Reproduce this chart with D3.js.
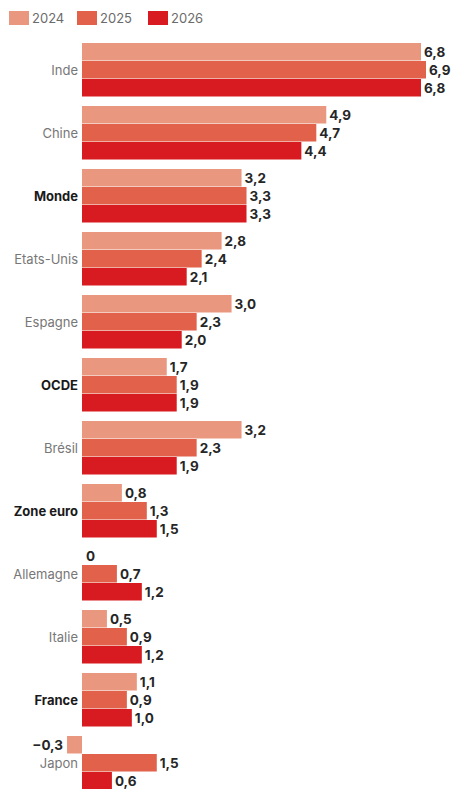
<!DOCTYPE html>
<html>
<head>
<meta charset="utf-8">
<script src="https://cdn.jsdelivr.net/npm/d3@7"></script>
<style>
  body { margin: 0; background: #fff; }
  svg { display: block; font-family: Inter, "Open Sans", sans-serif; }
</style>
</head>
<body>
<div id="chart-area"></div>
<script>
// Data
const countries = ['Inde', 'Chine', 'Monde', 'Etats-Unis', 'Espagne', 'OCDE', 'Brésil',
  'Zone euro', 'Allemagne', 'Italie', 'France', 'Japon'];
const boldCountries = ['Monde', 'OCDE', 'Zone euro', 'France'];
const years = ['2024', '2025', '2026'];
const values2024 = [6.8, 4.9, 3.2, 2.8, 3.0, 1.7, 3.2, 0.8, 0, 0.5, 1.1, -0.3];
const values2025 = [6.9, 4.7, 3.3, 2.4, 2.3, 1.9, 2.3, 1.3, 0.7, 0.9, 0.9, 1.5];
const values2026 = [6.8, 4.4, 3.3, 2.1, 2.0, 1.9, 1.9, 1.5, 1.2, 1.2, 1.0, 0.6];
const colors = ['#e9987f', '#e1614a', '#d81b20'];

const series = [values2024, values2025, values2026];

const width = 451;
const height = 789;

const svg = d3.select('#chart-area')
  .append('svg')
    .attr('width', width)
    .attr('height', height);

// Scales
const x = d3.scaleLinear()
  .domain([0, 6.8])
  .range([82, 421]);

const y = d3.scaleBand()
  .domain(countries)
  .range([43, 790])
  .paddingInner(9 / 63)
  .paddingOuter(0);

const ySub = d3.scaleBand()
  .domain(years)
  .range([0, y.bandwidth()]);

// "0" stays plain, others use a comma decimal
const fmt = v => v === 0 ? '0'
  : (v < 0 ? '\u2212' : '') + d3.format('.1f')(Math.abs(v)).replace('.', ',');

// Legend
const legend = svg.append('g');
const legendX = [9, 77, 148];
years.forEach((yr, i) => {
  legend.append('rect')
    .attr('x', legendX[i])
    .attr('y', 11)
    .attr('width', 20)
    .attr('height', 14)
    .attr('fill', colors[i]);
  legend.append('text')
    .attr('x', legendX[i] + 23)
    .attr('y', 18)
    .attr('dy', '0.35em')
    .attr('font-size', '13px')
    .attr('fill', '#6b6b6b')
    .text(yr);
});

// Groups
const groups = svg.selectAll('g.country')
  .data(countries)
  .enter().append('g')
    .attr('class', 'country')
    .attr('transform', d => 'translate(0, ' + y(d) + ')');

// Category labels
groups.append('text')
  .attr('x', 78)
  .attr('y', y.bandwidth() / 2)
  .attr('dy', '0.35em')
  .attr('text-anchor', 'end')
  .attr('font-size', '13px')
  .attr('font-weight', d => boldCountries.includes(d) ? 700 : 400)
  .attr('fill', d => boldCountries.includes(d) ? '#1a1a1a' : '#777')
  .text(d => d);

// Bars + value labels
years.forEach((yr, s) => {
  groups.append('rect')
    .attr('x', (d, i) => x(Math.min(0, series[s][i])))
    .attr('y', ySub(yr))
    .attr('width', (d, i) => Math.abs(x(series[s][i]) - x(0)))
    .attr('height', ySub.bandwidth() - 0.5)
    .attr('fill', colors[s]);

  groups.append('text')
    .attr('x', (d, i) => {
      const v = series[s][i];
      if (v < 0) return x(v) - 4;
      if (v === 0) return x(0) + 4;
      return x(v) + 3;
    })
    .attr('y', ySub(yr) + ySub.bandwidth() / 2)
    .attr('dy', '0.35em')
    .attr('text-anchor', (d, i) => series[s][i] < 0 ? 'end' : 'start')
    .attr('font-size', '13.5px')
    .attr('font-weight', 700)
    .attr('fill', '#262626')
    .text((d, i) => fmt(series[s][i]));
});
</script>
</body>
</html>
